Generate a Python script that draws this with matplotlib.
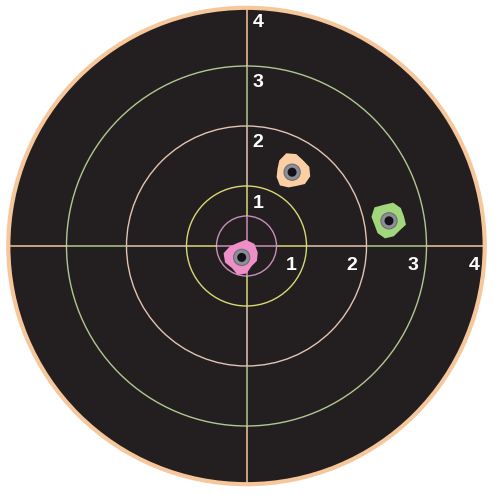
import matplotlib.pyplot as plt
import numpy as np
from matplotlib.patches import Circle, Polygon

# target rings (radius, colour)
ring_radii = [0.5, 1, 2, 3, 4]
ring_colors = ['#c98fba', '#d9d874', '#e3c4b2', '#b0c890', '#f6c79b']

# score labels placed along the two axes
label_text = ['1', '2', '3', '4']
label_along = [0.74, 1.76, 2.77, 3.79]
label_up = [0.70, 1.72, 2.72, 3.73]

# shots
shot_x = [-0.08, 0.76, 2.375]
shot_y = [-0.19, 1.23, 0.42]
shot_colors = ['#ee8fc8', '#fbcfa3', '#a2d67c']
# rough outline of each splat (radius per angle step)
shot_shapes = [
    [0.28, 0.31, 0.30, 0.25, 0.27, 0.31, 0.29, 0.24, 0.30, 0.28, 0.22, 0.26],
    [0.30, 0.27, 0.31, 0.33, 0.29, 0.25, 0.27, 0.30, 0.26, 0.24, 0.29, 0.31],
    [0.26, 0.29, 0.31, 0.28, 0.33, 0.30, 0.25, 0.28, 0.30, 0.27, 0.24, 0.29],
]

fig = plt.figure(figsize=(5, 4.95), dpi=100)
ax = fig.add_axes([0, 0, 1, 1])
ax.set_xlim(-246.5 / 60, 253.5 / 60)
ax.set_ylim(-249 / 60, 246 / 60)
ax.axis('off')

# black face with orange rim
ax.add_patch(Circle((0, 0), 3.97, facecolor='#231f20', edgecolor=ring_colors[-1], lw=3, zorder=1))

for r, c in zip(ring_radii[:-1], ring_colors[:-1]):
    ax.add_patch(Circle((0, 0), r, fill=False, edgecolor=c, lw=1.0, zorder=2))

# crosshair, each piece coloured like the ring it ends on
edges = [0] + ring_radii[:-1] + [3.95]
for i, c in enumerate(ring_colors):
    a, b = edges[i], edges[i + 1]
    for s in (1, -1):
        ax.plot([s * a, s * b], [0, 0], color=c, lw=1.1, zorder=2, solid_capstyle='butt')
        ax.plot([0, 0], [s * a, s * b], color=c, lw=1.1, zorder=2, solid_capstyle='butt')

for t, xa, yu in zip(label_text, label_along, label_up):
    ax.text(xa, -0.32, t, color='white', fontsize=14, fontweight='bold',
            family='Liberation Sans', ha='center', va='center', zorder=3)
    ax.text(0.19, yu, t, color='white', fontsize=14, fontweight='bold',
            family='Liberation Sans', ha='center', va='center', zorder=3)

for x, y, c, shape in zip(shot_x, shot_y, shot_colors, shot_shapes):
    ang = np.linspace(0, 2 * np.pi, len(shape), endpoint=False) + 0.3
    r = np.array(shape)
    pts = np.column_stack([x + r * np.cos(ang), y + r * np.sin(ang)])
    ax.add_patch(Polygon(pts, closed=True, facecolor=c, edgecolor='none', zorder=4))
    ax.add_patch(Circle((x, y), 0.135, facecolor='#8d8e96', edgecolor='#6c6c74', lw=0.8, zorder=5))
    ax.add_patch(Circle((x, y), 0.075, facecolor='#15111c', edgecolor='none', zorder=6))

fig.savefig('out.png', dpi=100)
